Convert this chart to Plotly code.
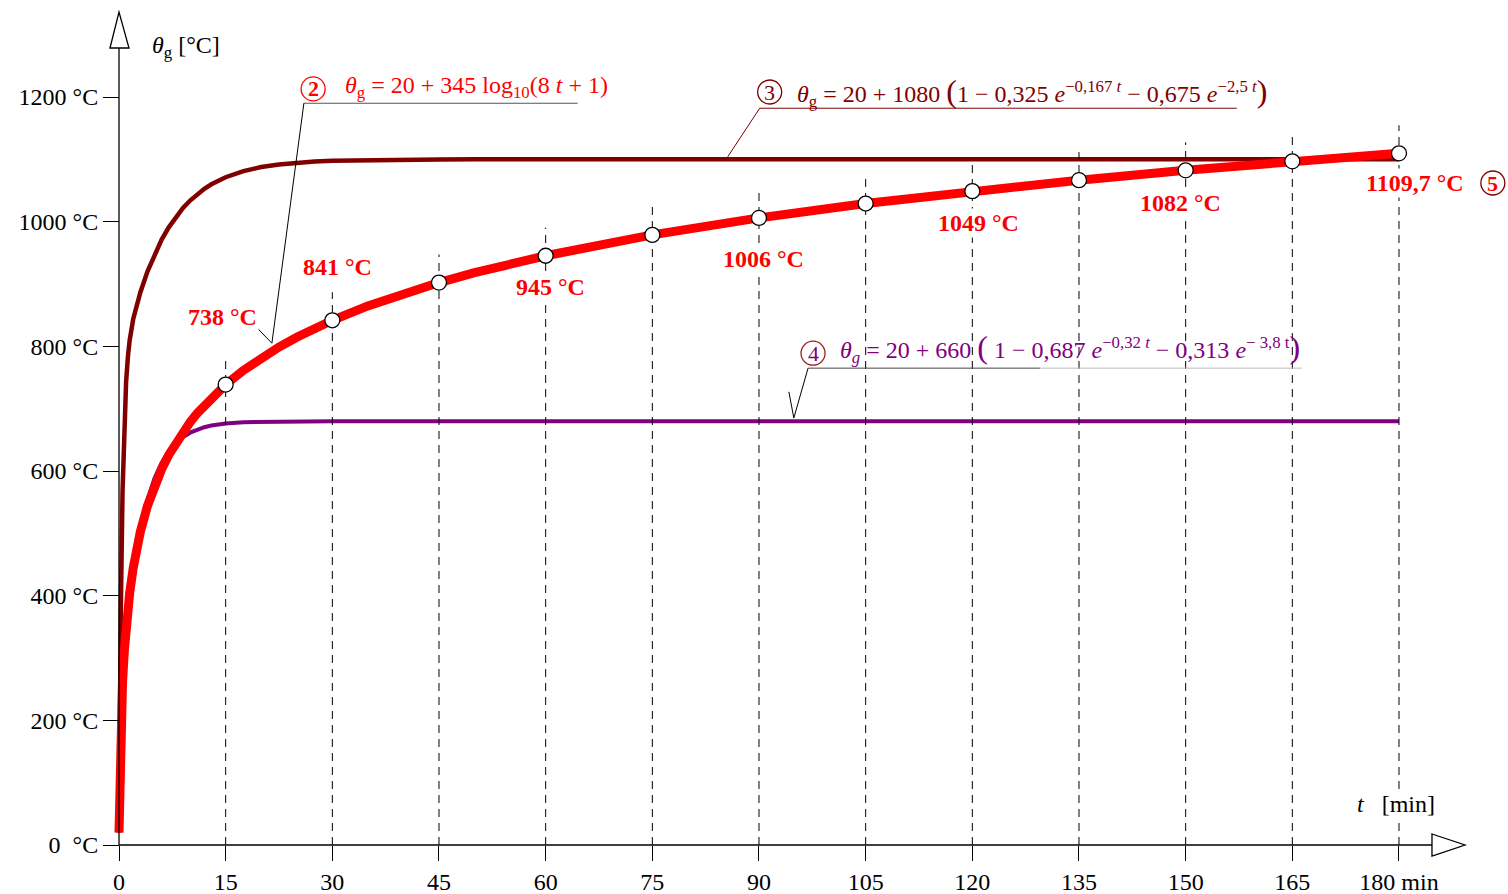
import plotly.graph_objects as go

# ---------------- data ----------------
t_min = [0, 0.05, 0.1, 0.25, 0.5, 0.75, 1, 1.25, 1.5, 2, 2.5, 3, 4, 5, 6, 7, 8, 9, 10, 11, 12, 13,
         15, 17.5, 20, 22.5, 25, 27.5, 30, 35, 40, 45, 50, 60, 75, 90, 105, 120, 135, 150, 165, 180]
iso_834 = [20, 70.4, 108.1, 184.6, 261.2, 311.6, 349.2, 379.3, 404.3, 444.5, 476.2, 502.3, 543.9,
           576.4, 603.1, 625.8, 645.5, 662.8, 678.4, 692.6, 705.4, 717.3,
           738.6, 761.5, 781.4, 798.9, 814.6, 828.8, 841.8, 864.8, 884.8,
           902.3, 918.1, 945.3, 978.8, 1006.0, 1029.1, 1049.0, 1066.6, 1082.4, 1096.8, 1109.7]
hydrocarbon = [20, 108.6, 187.1, 373.0, 568.0, 678.5, 743.2, 783.1, 809.6, 843.8, 867.4, 886.4, 920.0,
               947.7, 971.2, 990.9, 1007.8, 1021.9, 1033.9, 1044.1, 1052.7, 1060.0,
               1071.3, 1081.1, 1087.6, 1091.8, 1094.6, 1096.4, 1097.7, 1099.0, 1099.6,
               1099.8, 1100, 1100, 1100, 1100, 1100, 1100, 1100, 1100, 1100, 1100]
external_fire = [20, 63.0, 99.5, 181.6, 262.7, 311.4, 346.2, 374.3, 398.8, 440.8, 476.3, 506.4, 553.9,
                 588.5, 613.5, 631.7, 645.0, 654.6, 661.5, 666.6, 670.2, 672.9,
                 676.3, 678.3, 678.9, 679.7, 679.8, 680, 680, 680, 680,
                 680, 680, 680, 680, 680, 680, 680, 680, 680, 680, 680]

marker_t = [15, 30, 45, 60, 75, 90, 105, 120, 135, 150, 165, 180]
marker_vals = [738.6, 841.8, 902.3, 945.3, 978.8, 1006.0, 1029.1, 1049.0, 1066.6,
               1082.4, 1096.8, 1109.7]

value_labels = ["738 °C", "841 °C", "945 °C", "1006 °C", "1049 °C", "1082 °C", "1109,7 °C"]
value_label_t = [14.6, 30.7, 60.75, 90.6, 120.9, 149.3, 182.25]
value_label_v = [847, 927, 895, 940, 998, 1030, 1062]

x_tick_vals = [0, 15, 30, 45, 60, 75, 90, 105, 120, 135, 150, 165, 180]
x_tick_text = ["0", "15", "30", "45", "60", "75", "90", "105", "120", "135", "150", "165", "180 min"]
y_tick_vals = [0, 200, 400, 600, 800, 1000, 1200]
y_tick_text = ["0\u00a0\u00a0°C", "200 °C", "400 °C", "600 °C", "800 °C", "1000 °C", "1200 °C"]

# ---------------- styling ----------------
RED = "#FF0000"
DARKRED = "#800000"
PURPLE = "#800080"
FONT = "Liberation Serif"
W, H = 1508, 894
X_RANGE = [-16.734, 195.33]
Y_RANGE = [-78.61, 1355.62]

fig = go.Figure()

fig.add_trace(go.Scatter(x=t_min, y=external_fire, mode="lines",
                         line=dict(color=PURPLE, width=4), hoverinfo="skip"))
fig.add_trace(go.Scatter(x=t_min, y=hydrocarbon, mode="lines",
                         line=dict(color=DARKRED, width=4.5), hoverinfo="skip"))
fig.add_trace(go.Scatter(x=t_min, y=iso_834, mode="lines",
                         line=dict(color=RED, width=9), hoverinfo="skip"))

# dashed guide lines from axis to a bit above each marker
gx, gy = [], []
for t, v in zip(marker_t, marker_vals):
    gx += [t, t, None]
    gy += [0, v + 45, None]
fig.add_trace(go.Scatter(x=gx, y=gy, mode="lines",
                         line=dict(color="black", width=1, dash="8px,6px"), hoverinfo="skip"))

fig.add_trace(go.Scatter(x=marker_t, y=marker_vals, mode="markers",
                         marker=dict(size=15, color="white", line=dict(color="black", width=1.3)),
                         hoverinfo="skip"))

shapes = []
# axis lines
shapes.append(dict(type="line", x0=0, x1=0, y0=0, y1=1278.6, line=dict(color="black", width=1.3)))
shapes.append(dict(type="line", x0=0, x1=184.64, y0=0, y1=0, line=dict(color="black", width=1.3)))
# arrow heads
shapes.append(dict(type="path", path="M -1.266,1278.6 L 0,1336.4 L 1.406,1278.6 Z",
                   fillcolor="white", line=dict(color="black", width=1.3)))
shapes.append(dict(type="path", path="M 184.64,17.65 L 189.28,0 L 184.64,-17.65 Z",
                   fillcolor="white", line=dict(color="black", width=1.3)))
# leader lines
shapes.append(dict(type="line", x0=26.0, y0=1190, x1=64.5, y1=1190, line=dict(color="#555555", width=1.2)))
shapes.append(dict(type="line", x0=26.0, y0=1190, x1=21.5, y1=805, line=dict(color="black", width=1)))
shapes.append(dict(type="line", x0=19.3, y0=831, x1=21.5, y1=805, line=dict(color="black", width=1)))
shapes.append(dict(type="line", x0=90.1, y0=1182, x1=157.2, y1=1182, line=dict(color=DARKRED, width=1)))
shapes.append(dict(type="line", x0=90.1, y0=1182, x1=85.6, y1=1104, line=dict(color=DARKRED, width=1)))
shapes.append(dict(type="line", x0=96.9, y0=765, x1=129.5, y1=765, line=dict(color="#444444", width=1)))
shapes.append(dict(type="line", x0=129.5, y0=765, x1=166.3, y1=765, line=dict(color="#BBBBBB", width=1)))
shapes.append(dict(type="line", x0=96.9, y0=765, x1=94.9, y1=685, line=dict(color="black", width=1)))
shapes.append(dict(type="line", x0=94.2, y0=727, x1=94.9, y1=685, line=dict(color="black", width=1)))

# circled numbers
circles = [(27.3, 1213, RED, "<b>2</b>", RED),
           (91.5, 1208, DARKRED, "3", DARKRED),
           (97.6, 789, "#A02020", "4", PURPLE),
           (193.2, 1062, DARKRED, "<b>5</b>", RED)]
annotations = []
for cx, cy, lc, txt, tc in circles:
    shapes.append(dict(type="circle", xref="x", yref="y", xsizemode="pixel", ysizemode="pixel",
                       xanchor=cx, yanchor=cy, x0=-12, x1=12, y0=-12, y1=12,
                       line=dict(color=lc, width=1.3), fillcolor="white"))
    annotations.append(dict(x=cx, y=cy, text=txt, showarrow=False,
                            font=dict(family=FONT, size=22, color=tc), xanchor="center", yanchor="middle"))

BIG = '<span style="font-size:32px">'
annotations.append(dict(x=31.5, y=1216, xanchor="left", yanchor="middle", showarrow=False,
                        text="<i>θ</i><sub>g</sub> = 20 + 345 log<sub>10</sub>(8 <i>t</i> + 1)",
                        font=dict(family=FONT, size=24, color=RED)))
annotations.append(dict(x=95.1, y=1208, xanchor="left", yanchor="middle", showarrow=False,
                        text="<i>θ</i><sub>g</sub> = 20 + 1080 " + BIG + "(</span>1 − 0,325 <i>e</i><sup>−0,167 <i>t</i></sup>"
                             " − 0,675 <i>e</i><sup>−2,5 <i>t</i></sup>" + BIG + ")</span>",
                        font=dict(family=FONT, size=24, color=DARKRED)))
annotations.append(dict(x=101.1, y=797, xanchor="left", yanchor="middle", showarrow=False,
                        text="<i>θ</i><sub><i>g</i></sub> = 20 + 660 " + BIG + "(</span> 1 − 0,687 <i>e</i><sup>−0,32 <i>t</i></sup>"
                             " − 0,313 <i>e</i><sup>− 3,8 t</sup>" + BIG + ")</span>",
                        font=dict(family=FONT, size=24, color=PURPLE)))

for txt, tx, tv in zip(value_labels, value_label_t, value_label_v):
    annotations.append(dict(x=tx, y=tv, text="<b>" + txt + "</b>", showarrow=False,
                            xanchor="center", yanchor="middle", bgcolor="white",
                            font=dict(family=FONT, size=24, color=RED)))

# axis titles
annotations.append(dict(x=4.36, y=1280, xanchor="left", yanchor="middle", showarrow=False,
                        text="<i>θ</i><sub>g</sub> [°C]", font=dict(family=FONT, size=24, color="black")))
annotations.append(dict(x=173.8, y=66, xanchor="left", yanchor="middle", showarrow=False,
                        bgcolor="white",
                        text="<i>t</i>\u00a0\u00a0 [min]", font=dict(family=FONT, size=24, color="black")))

fig.update_layout(
    width=W, height=H, margin=dict(l=0, r=0, t=0, b=0, pad=0),
    plot_bgcolor="white", paper_bgcolor="white", showlegend=False,
    shapes=shapes, annotations=annotations,
    xaxis=dict(range=X_RANGE, anchor="free", position=49 / H, showgrid=False, zeroline=False,
               showline=False, tickmode="array", tickvals=x_tick_vals, ticktext=x_tick_text,
               ticks="outside", ticklen=15, tickwidth=1.3, tickcolor="black",
               tickfont=dict(family=FONT, size=24, color="black"), automargin=False),
    yaxis=dict(range=Y_RANGE, anchor="free", position=119 / W, showgrid=False, zeroline=False,
               showline=False, tickmode="array", tickvals=y_tick_vals, ticktext=y_tick_text,
               ticks="outside", ticklen=16, tickwidth=1.3, tickcolor="black",
               tickfont=dict(family=FONT, size=24, color="black"), automargin=False),
)

fig.write_html("out.html", config={"displayModeBar": False},
               post_script="document.body.style.margin='0';document.body.style.padding='0';"
                           "document.body.style.overflow='hidden';")
